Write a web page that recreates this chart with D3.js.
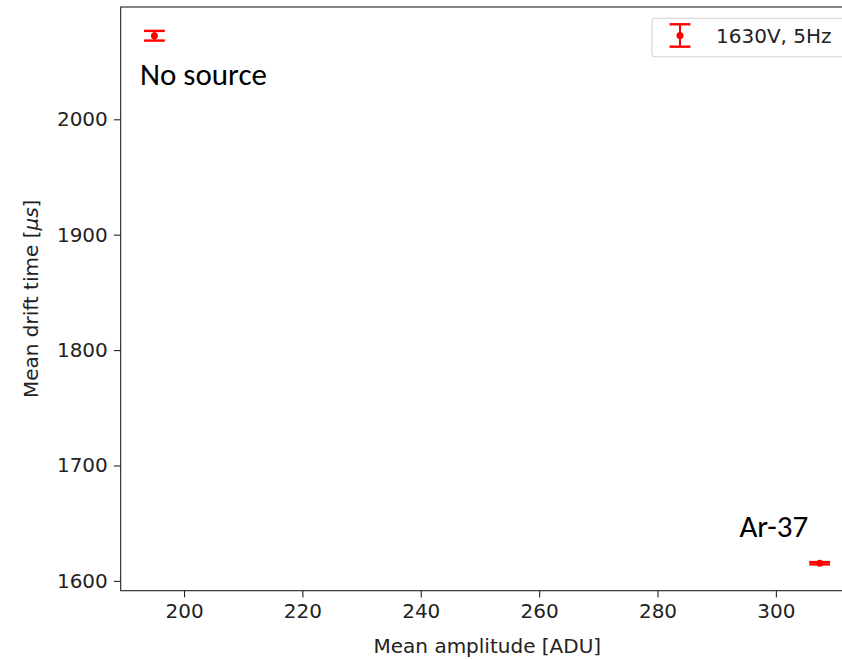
<!DOCTYPE html>
<html>
<head>
<meta charset="utf-8">
<script src="https://cdn.jsdelivr.net/npm/d3@7"></script>
<style>
  html, body { margin: 0; padding: 0; background: #fff; }
  svg { display: block; }
  text { font-family: "DejaVu Sans", sans-serif; }
</style>
</head>
<body>
<script>
// Measurements: mean amplitude vs mean drift time, 1630V at 5Hz
const pointNames = ["No source", "Ar-37"];
const meanAmplitude = [195.0, 307.4];
const meanDriftTime = [2072.4, 1615.3];
const driftTimeErr = [4.2, 1.0];

const xTicks = [200, 220, 240, 260, 280, 300];
const yTicks = [1600, 1700, 1800, 1900, 2000];
const xDomain = [189.3, 313.2];
const yDomain = [1591.5, 2097.3];
const seriesLabel = "1630V, 5Hz";

const W = 842, H = 659;
const margin = { left: 120.7, top: 7 };
const plotW = 733.3, plotH = 583.7;
const red = "#ff0000";
const ink = "#222";
const fs = "20px";
const tickLen = 6.7, pad = 6.2;
const capHalf = 10.4;

const svg = d3.select("body").append("svg").attr("width", W).attr("height", H);

const x = d3.scaleLinear().domain(xDomain).range([margin.left, margin.left + plotW]);
const y = d3.scaleLinear().domain(yDomain).range([margin.top + plotH, margin.top]);

// axes
const xAxis = d3.axisBottom(x).tickValues(xTicks).tickSize(tickLen).tickPadding(pad).tickFormat(d3.format("d"));
const yAxis = d3.axisLeft(y).tickValues(yTicks).tickSize(tickLen).tickPadding(pad).tickFormat(d3.format("d"));

const gx = svg.append("g").attr("transform", `translate(0,${margin.top + plotH})`).call(xAxis);
const gy = svg.append("g").attr("transform", `translate(${margin.left},0)`).call(yAxis);
[gx, gy].forEach(g => {
  g.select(".domain").remove();
  g.selectAll(".tick line").attr("stroke", ink).attr("stroke-width", 1.1);
  g.selectAll(".tick text").attr("fill", ink).style("font-size", fs).style("font-family", "DejaVu Sans");
});

// frame
svg.append("rect")
  .attr("x", margin.left).attr("y", margin.top)
  .attr("width", plotW).attr("height", plotH)
  .attr("fill", "none").attr("stroke", ink).attr("stroke-width", 1.1);

// axis titles
svg.append("text")
  .attr("x", margin.left + plotW / 2).attr("y", 653)
  .attr("text-anchor", "middle").attr("fill", ink)
  .style("font-size", fs)
  .text("Mean amplitude [ADU]");

const yl = svg.append("text")
  .attr("transform", `translate(37.5,${margin.top + plotH / 2}) rotate(-90)`)
  .attr("text-anchor", "middle").attr("fill", ink)
  .style("font-size", fs);
yl.append("tspan").text("Mean drift time [");
yl.append("tspan").style("font-style", "italic").text("\u03bcs");
yl.append("tspan").text("]");

// error bars
const pts = pointNames.map((n, i) => ({ name: n, xv: meanAmplitude[i], yv: meanDriftTime[i], e: driftTimeErr[i] }));
const g = svg.append("g");
pts.forEach(p => {
  const cx = x(p.xv), y0 = y(p.yv - p.e), y1 = y(p.yv + p.e);
  g.append("line").attr("x1", cx).attr("x2", cx).attr("y1", y0).attr("y2", y1)
    .attr("stroke", red).attr("stroke-width", 2);
  [y0, y1].forEach(yy => g.append("line")
    .attr("x1", cx - capHalf).attr("x2", cx + capHalf).attr("y1", yy).attr("y2", yy)
    .attr("stroke", red).attr("stroke-width", 2.4));
  g.append("circle").attr("cx", cx).attr("cy", y(p.yv)).attr("r", 3.5).attr("fill", red);
});

// point annotations
const noteFont = "'Carlito', 'Open Sans', sans-serif";
svg.append("text")
  .attr("x", x(pts[0].xv) - 14.5).attr("y", y(pts[0].yv) + 49.5)
  .attr("fill", "#000").style("font-family", noteFont).style("font-size", "31px")
  .text(pts[0].name);
svg.append("text")
  .attr("x", x(pts[1].xv) - 11.5).attr("y", y(pts[1].yv) - 26.5)
  .attr("text-anchor", "end")
  .attr("fill", "#000").style("font-family", noteFont).style("font-size", "31px")
  .text(pts[1].name);

// legend
const lg = svg.append("g");
lg.append("rect").attr("x", 652).attr("y", 18.3).attr("width", 205).attr("height", 38.4)
  .attr("rx", 3).attr("fill", "#fff").attr("fill-opacity", 0.8)
  .attr("stroke", "#d4d4d4").attr("stroke-width", 1.1);
const lx = 680, lyTop = 24.3, lyBot = 46.7, lyMid = 35.5;
lg.append("line").attr("x1", lx).attr("x2", lx).attr("y1", lyTop).attr("y2", lyBot)
  .attr("stroke", red).attr("stroke-width", 2);
[lyTop, lyBot].forEach(yy => lg.append("line")
  .attr("x1", lx - capHalf).attr("x2", lx + capHalf).attr("y1", yy).attr("y2", yy)
  .attr("stroke", red).attr("stroke-width", 2.4));
lg.append("circle").attr("cx", lx).attr("cy", lyMid).attr("r", 3.5).attr("fill", red);
lg.append("text").attr("x", 716).attr("y", 42.5).attr("fill", ink)
  .style("font-size", fs).text(seriesLabel);
</script>
</body>
</html>
